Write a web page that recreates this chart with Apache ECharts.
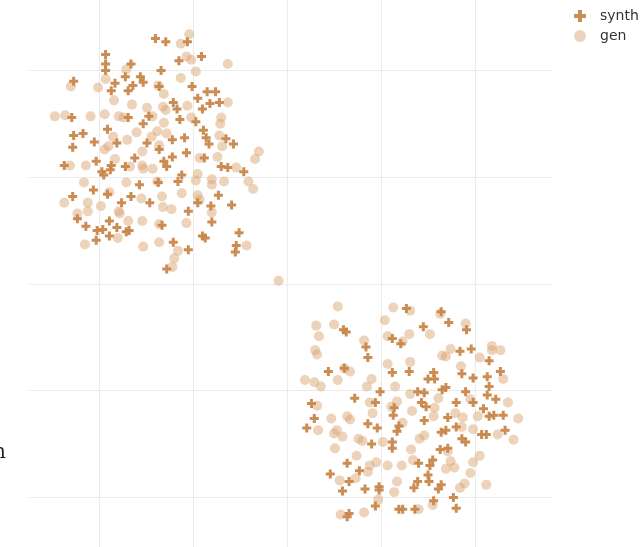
<!DOCTYPE html>
<html>
<head>
<meta charset="utf-8">
<script src="https://cdn.jsdelivr.net/npm/echarts@6/dist/echarts.min.js"></script>
<style>
  html, body { margin: 0; padding: 0; background: #fff; }
  #chart { width: 640px; height: 547px; }
</style>
</head>
<body>
<div id="chart"></div>
<script>
// embedding coordinates
var synthPoints = [
  [-14.0,23.0],[-12.9,22.7],[-10.6,22.7],[-9.1,21.3],[-11.5,20.9],[-19.3,21.5],[-19.3,20.6],[-19.3,20.0],
  [-16.6,20.6],[-13.4,20.0],[-22.7,19.0],[-17.2,19.4],[-15.6,19.4],[-15.3,18.9],[-18.3,18.8],[-16.4,18.6],
  [-16.9,18.1],[-18.7,18.1],[-13.6,18.5],[-10.1,18.5],[-8.5,18.0],[-7.6,18.0],[-9.5,17.4],[-12.1,17.0],
  [-11.7,16.4],[-8.2,16.9],[-7.2,17.0],[-9.0,16.4],[-22.9,15.6],[-16.9,15.6],[-14.7,15.7],[-11.4,15.4],
  [-15.3,15.0],[-9.7,15.2],[-19.1,14.5],[-8.9,14.4],[-21.7,14.1],[-22.7,13.9],[-20.5,13.3],[-18.1,13.2],
  [-14.9,13.2],[-12.2,13.5],[-10.9,13.7],[-8.6,13.7],[-8.3,13.1],[-6.5,13.6],[-5.7,13.1],[-22.8,12.8],
  [-13.6,12.6],[-10.7,12.3],[-16.2,11.8],[-12.2,11.9],[-13.1,11.5],[-8.8,11.8],[-20.3,11.5],[-23.7,11.1],
  [-18.7,11.1],[-17.2,11.0],[-12.8,11.0],[-7.0,11.0],[-6.3,10.9],[-4.6,10.5],[-19.7,10.5],[-18.8,10.7],
  [-19.5,10.2],[-11.2,10.2],[-11.6,9.6],[-13.7,9.5],[-15.7,9.3],[-20.6,8.8],[-19.1,8.4],[-16.6,8.2],
  [-22.8,8.2],[-7.3,8.3],[-17.6,7.6],[-14.6,7.6],[-9.5,7.6],[-8.1,7.3],[-5.9,7.4],[-10.5,6.8],
  [-8.0,5.8],[-22.3,6.1],[-21.4,5.4],[-18.9,5.9],[-18.1,5.3],[-20.2,5.0],[-19.6,5.1],[-17.1,4.9],
  [-16.8,5.0],[-18.9,4.5],[-13.3,5.5],[-20.3,4.1],[-12.1,3.9],[-9.0,4.5],[-8.7,4.3],[-5.1,4.8],
  [-5.4,3.6],[-5.5,3.0],[-10.5,3.2],[-12.8,1.4],
  [12.7,-2.3],[16.4,-2.6],[17.2,-3.6],[14.5,-4.0],[19.1,-4.3],[6.0,-4.3],[6.3,-4.5],[11.2,-5.1],
  [12.1,-5.6],[8.4,-5.9],[8.6,-6.9],[18.4,-6.3],[19.6,-6.1],[21.5,-7.2],[4.4,-8.2],[6.1,-7.9],
  [11.2,-8.3],[13.0,-8.2],[15.6,-8.3],[15.0,-8.9],[15.7,-8.9],[18.6,-8.4],[19.8,-8.8],[21.3,-8.7],
  [22.7,-8.2],[9.9,-10.1],[13.9,-10.1],[14.6,-10.2],[16.5,-9.9],[16.9,-9.7],[19.0,-10.1],[21.5,-9.6],
  [21.3,-10.4],[22.2,-10.8],[7.2,-10.7],[9.4,-11.1],[2.6,-11.2],[19.8,-11.1],[18.0,-11.1],[14.3,-11.1],
  [14.8,-11.5],[11.4,-11.6],[11.3,-12.3],[20.9,-11.7],[21.5,-12.4],[22.0,-12.3],[23.0,-12.3],[2.9,-12.6],
  [17.1,-12.5],[2.1,-13.5],[14.6,-12.8],[8.6,-13.1],[9.6,-13.5],[11.9,-13.3],[11.7,-13.8],[18.0,-13.4],
  [16.9,-13.7],[16.4,-13.9],[23.2,-13.7],[20.7,-14.1],[21.2,-14.1],[18.6,-14.5],[19.0,-14.8],[9.0,-15.0],
  [11.2,-14.8],[11.2,-15.4],[16.3,-15.5],[17.1,-15.4],[15.5,-16.5],[15.2,-17.0],[14.0,-16.8],[6.4,-16.8],
  [7.7,-17.5],[4.6,-17.8],[15.0,-17.9],[6.6,-18.5],[13.9,-18.5],[15.1,-18.5],[16.4,-18.8],[16.1,-19.2],
  [13.5,-19.1],[8.3,-19.2],[9.8,-19.0],[9.8,-19.3],[5.9,-19.4],[15.6,-20.3],[17.7,-20.0],[18.0,-21.0],
  [9.4,-20.8],[11.9,-21.1],[12.3,-21.1],[13.6,-21.1],[6.6,-21.5],[6.4,-21.8]
];

var genPoints = [
  [-10.4,23.4],[-11.3,22.5],[-10.7,21.3],[-10.2,21.0],[-9.7,19.9],[-6.3,20.6],[-11.3,19.3],[-17.1,20.1],
  [-19.3,19.2],[-20.1,18.4],[-23.0,18.5],[-13.7,18.6],[-13.1,17.8],[-18.4,17.2],[-16.5,16.8],[-14.9,16.5],
  [-13.2,16.6],[-10.6,16.7],[-6.3,17.0],[-24.7,15.7],[-23.6,15.8],[-20.9,15.7],[-19.4,15.9],[-17.9,15.7],
  [-17.4,15.6],[-14.3,15.7],[-12.9,16.3],[-10.2,15.6],[-7.0,15.6],[-7.1,15.0],[-13.1,15.1],[-16.0,14.2],
  [-13.8,14.3],[-12.8,14.1],[-14.4,13.8],[-18.5,13.8],[-17.0,13.5],[-19.0,12.9],[-19.4,12.6],[-13.6,13.0],
  [-7.2,13.9],[-6.9,12.9],[-3.0,12.4],[-3.4,11.7],[-15.4,12.4],[-18.3,11.7],[-23.1,11.1],[-21.4,11.1],
  [-16.7,11.0],[-15.4,11.1],[-15.3,10.8],[-14.3,10.8],[-9.3,11.8],[-7.4,11.9],[-5.4,10.9],[-9.5,10.3],
  [-9.7,9.7],[-8.0,9.8],[-8.0,9.3],[-6.7,9.6],[-4.1,9.6],[-3.6,8.9],[-21.6,9.5],[-17.1,9.5],
  [-13.8,9.6],[-11.2,8.5],[-13.3,8.2],[-15.5,8.0],[-18.9,8.6],[-9.5,8.3],[-9.3,7.9],[-23.7,7.6],
  [-21.2,7.6],[-19.8,7.3],[-21.2,6.8],[-17.9,6.8],[-17.8,6.6],[-13.2,7.2],[-12.3,7.0],[-8.0,6.7],
  [-22.3,6.6],[-16.9,5.9],[-15.4,5.9],[-13.6,5.6],[-10.7,5.7],[-21.5,3.7],[-18.0,4.3],[-15.3,3.5],
  [-13.6,3.9],[-11.6,3.1],[-4.3,3.6],[-12.0,2.4],[-12.2,1.6],[-0.9,0.3],
  [5.4,-2.1],[11.3,-2.2],[13.1,-2.5],[10.4,-3.4],[3.1,-3.9],[5.0,-3.8],[3.4,-4.9],[15.2,-4.7],
  [19.0,-3.7],[16.3,-2.8],[10.7,-4.9],[13.0,-4.7],[12.3,-5.4],[8.2,-5.3],[3.0,-6.2],[3.2,-6.6],
  [16.5,-6.7],[16.9,-6.8],[17.4,-6.1],[20.5,-6.9],[21.8,-5.8],[21.8,-6.2],[22.7,-6.2],[10.7,-7.5],
  [13.1,-7.3],[18.5,-7.7],[6.1,-7.9],[6.7,-8.2],[1.9,-9.0],[2.9,-9.2],[3.6,-9.6],[5.4,-9.0],
  [9.0,-8.9],[8.5,-9.6],[11.5,-9.6],[23.0,-8.9],[13.1,-10.3],[16.1,-10.7],[11.7,-11.0],[19.5,-10.8],
  [23.5,-11.1],[3.2,-11.4],[8.8,-11.1],[11.1,-11.5],[13.3,-11.9],[15.7,-11.6],[15.6,-12.4],[17.9,-12.1],
  [18.7,-12.5],[20.3,-12.4],[24.6,-12.6],[9.1,-12.1],[4.7,-12.6],[6.4,-12.4],[6.7,-12.7],[12.3,-13.0],
  [3.3,-13.7],[5.3,-13.7],[5.0,-14.0],[5.9,-14.3],[18.6,-13.4],[19.8,-13.6],[22.4,-14.1],[24.1,-14.6],
  [7.6,-14.5],[8.0,-14.7],[10.2,-14.8],[14.1,-14.5],[14.6,-14.2],[5.1,-15.4],[13.2,-15.5],[17.1,-15.7],
  [7.4,-16.1],[13.4,-16.5],[17.4,-16.6],[20.5,-16.1],[19.8,-16.7],[9.5,-16.7],[8.8,-17.0],[10.7,-17.0],
  [12.2,-17.0],[16.9,-17.3],[17.8,-17.2],[8.6,-17.6],[19.5,-17.7],[7.3,-18.2],[5.6,-18.4],[11.7,-18.5],
  [18.9,-18.7],[18.4,-19.1],[21.2,-18.8],[11.4,-19.5],[9.7,-20.2],[15.5,-20.7],[8.2,-21.4],[5.7,-21.6],
  [14.0,-21.1]
];

var seriesNames = ['synth', 'gen'];

var chartDom = document.getElementById('chart');
var myChart = echarts.init(chartDom, null, { renderer: 'canvas' });

var plusPath = 'path://M3,0 H6 V3 H9 V6 H6 V9 H3 V6 H0 V3 H3 Z';

var option = {
    backgroundColor: '#ffffff',
    animation: false,
    textStyle: { fontFamily: 'DejaVu Sans' },
    grid: { left: 29, right: 88, top: 0, bottom: 0, containLabel: false },
    legend: {
        data: seriesNames,
        orient: 'vertical',
        left: 569,
        top: 4,
        itemWidth: 30,
        itemHeight: 12,
        itemGap: 6,
        textStyle: { color: '#333333', fontSize: 14, fontFamily: 'DejaVu Sans' }
    },
    xAxis: {
        type: 'value',
        min: -27.45,
        max: 28.19,
        axisLine: { show: false },
        axisTick: { show: false },
        axisLabel: { show: false },
        splitLine: { show: true, showMinLine: false, showMaxLine: false, lineStyle: { color: '#ebebeb', width: 1 } }
    },
    yAxis: {
        type: 'value',
        min: -24.64,
        max: 26.6,
        axisLine: { show: false },
        axisTick: { show: false },
        axisLabel: { show: false },
        splitLine: { show: true, showMinLine: false, showMaxLine: false, lineStyle: { color: '#ebebeb', width: 1 } }
    },
    graphic: [
        {
            type: 'text',
            left: -7,
            top: 443,
            style: { text: 'n', font: '20px "DejaVu Serif"', fill: '#222222' }
        }
    ],
    series: [
        {
            name: 'gen',
            type: 'scatter',
            z: 2,
            data: genPoints,
            symbol: 'circle',
            symbolSize: 10,
            itemStyle: { color: '#d9a875', opacity: 0.5 }
        },
        {
            name: 'synth',
            type: 'scatter',
            z: 3,
            data: synthPoints,
            symbol: plusPath,
            symbolSize: 9,
            itemStyle: { color: '#c8874a', opacity: 0.95 }
        }
    ]
};

myChart.setOption(option);
window.addEventListener('resize', function() {
    myChart.resize();
});
</script>
</body>
</html>
